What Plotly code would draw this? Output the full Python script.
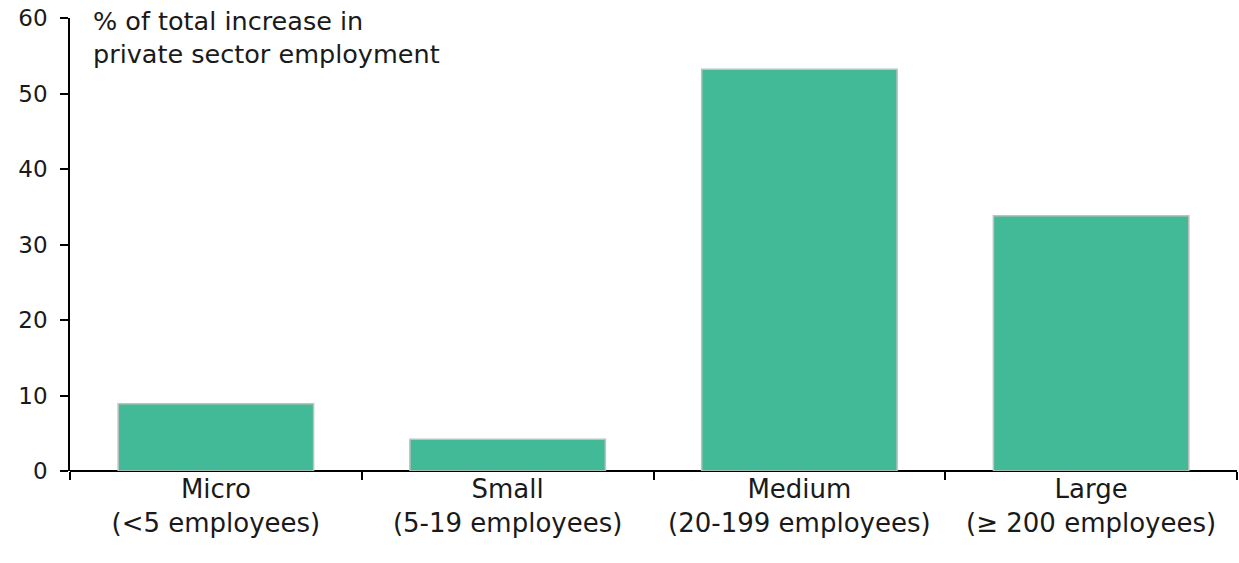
import plotly.graph_objects as go

# Share of total increase in private sector employment by firm size
categories = [
    "Micro<br>(&lt;5 employees)",
    "Small<br>(5-19 employees)",
    "Medium<br>(20-199 employees)",
    "Large<br>(≥ 200 employees)",
]
shares = [8.9, 4.2, 53.2, 33.8]

y_ticks = [0, 10, 20, 30, 40, 50, 60]

FONT = "'DejaVu Sans', 'Open Sans', sans-serif"
TEXT = "#1a1a1a"

fig = go.Figure(
    go.Bar(
        x=categories,
        y=shares,
        width=0.67,
        marker=dict(color="#43BA97", line=dict(color="#C0C0C0", width=1.5)),
        hoverinfo="skip",
    )
)

fig.update_layout(
    width=1239,
    height=563,
    margin=dict(l=70, r=2, t=18, b=92),
    paper_bgcolor="white",
    plot_bgcolor="white",
    showlegend=False,
    font=dict(family=FONT, color=TEXT, size=23),
    xaxis=dict(
        type="category",
        tickson="boundaries",
        ticks="outside",
        ticklen=8,
        tickwidth=1.5,
        tickcolor="black",
        showline=False,
        showgrid=False,
        zeroline=False,
        tickfont=dict(size=26, family=FONT, color=TEXT),
        range=[-0.5, 3.5],
    ),
    yaxis=dict(
        range=[0, 60],
        tickvals=y_ticks,
        ticks="outside",
        ticklen=8,
        tickwidth=1.5,
        tickcolor="black",
        ticklabelstandoff=8,
        showline=True,
        linecolor="black",
        linewidth=1.5,
        showgrid=False,
        zeroline=True,
        zerolinecolor="black",
        zerolinewidth=1.5,
        tickfont=dict(size=23, family=FONT, color=TEXT),
    ),
    annotations=[
        dict(
            text="% of total increase in<br>private sector employment",
            xref="paper",
            yref="paper",
            x=0.018,
            y=1.032,
            xanchor="left",
            yanchor="top",
            align="left",
            showarrow=False,
            font=dict(size=25.5, family=FONT, color=TEXT),
        )
    ],
)

fig.write_html("out.html")
